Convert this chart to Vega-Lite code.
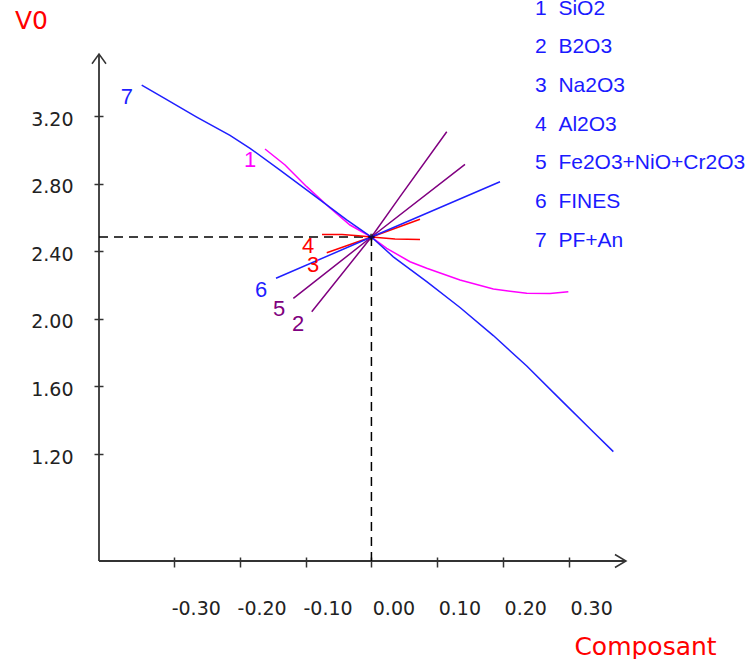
{
  "$schema": "https://vega.github.io/schema/vega-lite/v6.json",
  "width": 527,
  "height": 507,
  "autosize": {"type": "none"},
  "padding": {"left": 99, "top": 54, "right": 128, "bottom": 98},
  "background": "white",
  "config": {"view": {"stroke": null}},
  "datasets": {
    "axes": [
      {"x": -0.4134, "x2": -0.4134, "y": 0.567, "y2": 3.567},
      {"x": -0.4134, "x2": 0.3863, "y": 0.567, "y2": 0.567}
    ],
    "dashes": [
      {"x": -0.4134, "x2": 0, "y": 2.484, "y2": 2.484},
      {"x": 0, "x2": 0, "y": 0.567, "y2": 2.484}
    ],
    "center": [{"x": 0, "y": 2.484}],
    "arrowUp": [{"x": -0.4134, "y": 3.567}],
    "arrowRight": [{"x": 0.3863, "y": 0.567}],
    "lines": [
      {"s": "1", "i": 1, "x": -0.1615, "y": 3.005},
      {"s": "1", "i": 2, "x": -0.1311, "y": 2.91},
      {"s": "1", "i": 3, "x": -0.0982, "y": 2.782},
      {"s": "1", "i": 4, "x": -0.0628, "y": 2.656},
      {"s": "1", "i": 5, "x": -0.0325, "y": 2.555},
      {"s": "1", "i": 6, "x": 0, "y": 2.484},
      {"s": "1", "i": 7, "x": 0.0232, "y": 2.417},
      {"s": "1", "i": 8, "x": 0.0586, "y": 2.338},
      {"s": "1", "i": 9, "x": 0.0839, "y": 2.299},
      {"s": "1", "i": 10, "x": 0.1344, "y": 2.23},
      {"s": "1", "i": 11, "x": 0.185, "y": 2.176},
      {"s": "1", "i": 12, "x": 0.2357, "y": 2.151},
      {"s": "1", "i": 13, "x": 0.271, "y": 2.15},
      {"s": "1", "i": 14, "x": 0.2988, "y": 2.16},
      {"s": "2", "i": 1, "x": -0.0906, "y": 2.042},
      {"s": "2", "i": 2, "x": 0, "y": 2.484},
      {"s": "2", "i": 3, "x": 0.0434, "y": 2.723},
      {"s": "2", "i": 4, "x": 0.1143, "y": 3.107},
      {"s": "3", "i": 1, "x": -0.0678, "y": 2.391},
      {"s": "3", "i": 2, "x": 0, "y": 2.484},
      {"s": "3", "i": 3, "x": 0.0737, "y": 2.589},
      {"s": "4", "i": 1, "x": -0.075, "y": 2.499},
      {"s": "4", "i": 2, "x": -0.0446, "y": 2.499},
      {"s": "4", "i": 3, "x": -0.02, "y": 2.492},
      {"s": "4", "i": 4, "x": 0, "y": 2.484},
      {"s": "4", "i": 5, "x": 0.0358, "y": 2.472},
      {"s": "4", "i": 6, "x": 0.0737, "y": 2.47},
      {"s": "5", "i": 1, "x": -0.1185, "y": 2.121},
      {"s": "5", "i": 2, "x": 0, "y": 2.484},
      {"s": "5", "i": 3, "x": 0.142, "y": 2.914},
      {"s": "6", "i": 1, "x": -0.1448, "y": 2.24},
      {"s": "6", "i": 2, "x": 0, "y": 2.484},
      {"s": "6", "i": 3, "x": 0.1951, "y": 2.811},
      {"s": "7", "i": 1, "x": -0.3486, "y": 3.383},
      {"s": "7", "i": 2, "x": -0.3158, "y": 3.309},
      {"s": "7", "i": 3, "x": -0.2651, "y": 3.194},
      {"s": "7", "i": 4, "x": -0.2146, "y": 3.085},
      {"s": "7", "i": 5, "x": -0.1842, "y": 3.009},
      {"s": "7", "i": 6, "x": -0.1387, "y": 2.88},
      {"s": "7", "i": 7, "x": -0.0882, "y": 2.733},
      {"s": "7", "i": 8, "x": -0.0375, "y": 2.585},
      {"s": "7", "i": 9, "x": 0, "y": 2.484},
      {"s": "7", "i": 10, "x": 0.0332, "y": 2.367},
      {"s": "7", "i": 11, "x": 0.0839, "y": 2.22},
      {"s": "7", "i": 12, "x": 0.1344, "y": 2.067},
      {"s": "7", "i": 13, "x": 0.185, "y": 1.901},
      {"s": "7", "i": 14, "x": 0.2357, "y": 1.721},
      {"s": "7", "i": 15, "x": 0.2862, "y": 1.525},
      {"s": "7", "i": 16, "x": 0.3367, "y": 1.33},
      {"s": "7", "i": 17, "x": 0.3671, "y": 1.214}
    ],
    "labels": [
      {"s": "7", "text": "7", "x": -0.371, "y": 3.312},
      {"s": "1", "text": "1", "x": -0.1842, "y": 2.94},
      {"s": "6", "text": "6", "x": -0.1675, "y": 2.17},
      {"s": "5", "text": "5", "x": -0.1402, "y": 2.058},
      {"s": "2", "text": "2", "x": -0.1114, "y": 1.969},
      {"s": "4", "text": "4", "x": -0.0962, "y": 2.431},
      {"s": "3", "text": "3", "x": -0.0886, "y": 2.318}
    ],
    "legend": [
      {"text": "1\u00a0\u00a0SiO2", "x": 0.2483, "y": 3.835},
      {"text": "2\u00a0\u00a0B2O3", "x": 0.2483, "y": 3.607},
      {"text": "3\u00a0\u00a0Na2O3", "x": 0.2483, "y": 3.378},
      {"text": "4\u00a0\u00a0Al2O3", "x": 0.2483, "y": 3.149},
      {"text": "5\u00a0\u00a0Fe2O3+NiO+Cr2O3", "x": 0.2483, "y": 2.92},
      {"text": "6\u00a0\u00a0FINES", "x": 0.2483, "y": 2.69},
      {"text": "7\u00a0\u00a0PF+An", "x": 0.2483, "y": 2.458}
    ]
  },
  "encoding": {
    "x": {
      "field": "x",
      "type": "quantitative",
      "scale": {"domain": [-0.4134, 0.3863], "nice": false, "zero": false},
      "axis": {
        "values": [-0.3, -0.2, -0.1, 0, 0.1, 0.2, 0.3],
        "labelExpr": "replace(format(datum.value, '.2f'), '\u2212', '-')",
        "domain": false,
        "grid": false,
        "offset": -4,
        "tickSize": 10,
        "tickColor": "#333333",
        "tickWidth": 1.5,
        "labelFont": "DejaVu Sans",
        "labelFontSize": 19,
        "labelColor": "#222222",
        "labelOffset": 22,
        "labelPadding": 41,
        "labelBaseline": "middle",
        "labelFlush": false,
        "labelOverlap": false,
        "title": "Composant",
        "titleColor": "#ff0000",
        "titleFont": "DejaVu Sans",
        "titleFontSize": 25,
        "titleFontWeight": "normal",
        "titleX": 546,
        "titleY": 89,
        "titleAlign": "center",
        "titleBaseline": "middle"
      }
    },
    "y": {
      "field": "y",
      "type": "quantitative",
      "scale": {"domain": [0.567, 3.567], "nice": false, "zero": false},
      "axis": {
        "values": [1.2, 1.6, 2.0, 2.4, 2.8, 3.2],
        "labelExpr": "replace(format(datum.value, '.2f'), '\u2212', '-')",
        "domain": false,
        "grid": false,
        "offset": -4,
        "tickSize": 9,
        "tickColor": "#333333",
        "tickWidth": 1.5,
        "labelFont": "DejaVu Sans",
        "labelFontSize": 19,
        "labelColor": "#222222",
        "labelPadding": 21,
        "labelOffset": 3,
        "labelBaseline": "middle",
        "labelFlush": false,
        "labelOverlap": false,
        "title": "V0",
        "titleColor": "#ff0000",
        "titleFont": "DejaVu Sans",
        "titleFontSize": 25,
        "titleFontWeight": "normal",
        "titleAngle": 0,
        "titleX": -72,
        "titleY": -34,
        "titleAlign": "center",
        "titleBaseline": "middle"
      }
    }
  },
  "layer": [
    {
      "data": {"name": "axes"},
      "mark": {"type": "rule", "color": "#333333", "strokeWidth": 1.8},
      "encoding": {"x2": {"field": "x2"}, "y2": {"field": "y2"}}
    },
    {
      "data": {"name": "dashes"},
      "mark": {"type": "rule", "color": "#000000", "strokeWidth": 1.5, "strokeDash": [9, 6]},
      "encoding": {"x2": {"field": "x2"}, "y2": {"field": "y2"}}
    },
    {
      "data": {"name": "lines"},
      "mark": {"type": "line", "strokeWidth": 1.5},
      "encoding": {
        "color": {
          "field": "s",
          "type": "nominal",
          "scale": {"domain": ["1", "2", "3", "4", "5", "6", "7"], "range": ["#ff00ff", "#800080", "#ff0000", "#ff0000", "#800080", "#1f1fff", "#1f1fff"]},
          "legend": null
        },
        "order": {"field": "i", "type": "quantitative"}
      }
    },
    {
      "data": {"name": "center"},
      "mark": {"type": "point", "shape": "cross", "filled": true, "color": "#000000", "size": 40}
    },
    {
      "data": {"name": "arrowUp"},
      "mark": {"type": "point", "shape": "M-1,1.4L0,0L1,1.4", "filled": false, "color": "#333333", "strokeWidth": 1.5, "size": 196, "opacity": 1}
    },
    {
      "data": {"name": "arrowRight"},
      "mark": {"type": "point", "shape": "M-1.7,-1L0,0L-1.7,1", "filled": false, "color": "#333333", "strokeWidth": 1.5, "size": 169, "opacity": 1}
    },
    {
      "data": {"name": "labels"},
      "mark": {"type": "text", "font": "Liberation Sans", "fontSize": 22, "align": "center", "baseline": "middle"},
      "encoding": {
        "text": {"field": "text"},
        "color": {
          "field": "s",
          "type": "nominal",
          "scale": {"domain": ["1", "2", "3", "4", "5", "6", "7"], "range": ["#ff00ff", "#800080", "#ff0000", "#ff0000", "#800080", "#1f1fff", "#1f1fff"]},
          "legend": null
        }
      }
    },
    {
      "data": {"name": "legend"},
      "mark": {"type": "text", "font": "Liberation Sans", "fontSize": 21, "align": "left", "baseline": "middle", "color": "#1a1aff"},
      "encoding": {"text": {"field": "text"}}
    }
  ]
}
